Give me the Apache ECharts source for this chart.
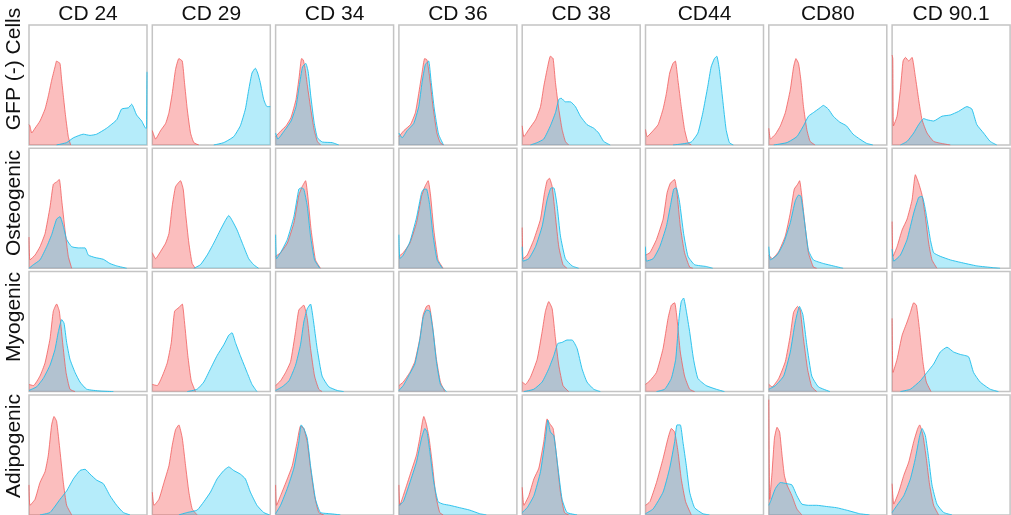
<!DOCTYPE html>
<html>
<head>
<meta charset="utf-8" />
<title>Flow cytometry histograms</title>
<script src="https://cdn.jsdelivr.net/npm/echarts@6/dist/echarts.min.js"></script>
<style>
  html, body { margin: 0; padding: 0; background: #fff; }
  #main { width: 1011px; height: 515px; }
</style>
</head>
<body>
<div id="main"></div>
<script type="text/javascript">
// column / row labels
var markers = ['CD 24', 'CD 29', 'CD 34', 'CD 36', 'CD 38', 'CD44', 'CD80', 'CD 90.1'];
var conditions = ['GFP (-) Cells', 'Osteogenic', 'Myogenic', 'Adipogenic'];
var labelCenters = [69, 203, 317, 446];

// histograms: [fluorescence (0-100), count (% of panel height)], one list per marker
var redGFP = [
  [[0,17],[0.8,16],[2.3,10],[5.1,14],[9.3,20],[13.6,30],[16.4,41],[19.2,54],[22,65],[23.4,70],[24.9,69],[26.3,68],[27.7,54],[29.1,41],[31,24],[33.3,7],[35.3,0]],
  [[0,12],[2.8,5],[7,12],[11.3,18],[14.1,27],[16.9,43],[19.7,63],[22.5,72],[25.4,70],[27.3,52],[29.6,30],[32.4,10],[35.2,2],[39.4,0]],
  [[0,7],[4.7,12],[8.9,16],[13.1,23],[17.3,38],[20,57],[22,72],[23.4,71],[24.8,65],[27,49],[29.8,30],[32.6,13],[35.4,3],[38.2,0]],
  [[0,7],[4.2,12],[9.8,17],[14,27],[16.8,43],[19.6,60],[21.8,72],[23.8,71],[26,57],[28.9,32],[32.2,10],[35,2],[37.8,0]],
  [[0,16],[1.4,7],[5.6,13],[11.3,21],[15.5,32],[18.3,49],[21.1,63],[23.9,74],[26.2,72],[28.2,52],[31,30],[33.8,13],[36.6,3],[39.4,0]],
  [[0,13],[1.4,7],[6.5,12],[10.7,17],[14.9,30],[17.7,43],[20.5,60],[23.3,68],[25.3,70],[27.5,54],[30.3,32],[33.1,13],[36,2],[38.8,0]],
  [[0,14],[1.4,5],[5.6,9],[9.8,16],[14,27],[18.2,46],[21,65],[23,72],[25.2,68],[27.2,54],[29.4,32],[32.2,13],[35,3],[39.2,0]],
  [[0,75],[0.6,72],[1.2,16],[4.2,24],[7,46],[9.3,70],[11.3,73],[14.1,70],[16.9,73],[19.7,57],[22.5,38],[25.4,21],[29.6,10],[35.2,3],[40.8,1.5],[49.3,0]]
];
var cyanGFP = [
  [[23.4,0],[31.9,2],[37.6,6],[46,9],[51.7,8],[57.3,9],[65.8,14],[74.3,21],[78.5,30],[84.2,31],[87,34],[91.2,25],[95.5,20],[98.9,14],[99.6,14],[100,61]],
  [[52.1,0],[60.6,2],[69,7],[74.6,16],[78.9,30],[81.7,46],[84.5,60],[87.3,64],[89.3,60],[91.5,52],[94.4,38],[97.2,32],[100,32]],
  [[0,10],[1.9,5],[7.5,12],[13.1,20],[17.3,32],[20,49],[22.8,65],[25.6,68],[27.6,61],[29.8,41],[32.6,19],[35.4,6],[39.6,2.5],[47.9,2],[53.5,0]],
  [[0,10],[2.8,6],[7,12],[12.6,18],[16.8,32],[19.6,52],[22.4,67],[25.2,70],[27.2,54],[30,30],[33.6,9],[37.8,0]],
  [[7,0],[12.7,2],[18.3,5],[23.9,16],[28.2,27],[31,38],[33,39],[36.6,36],[40.8,36],[45.1,32],[49.3,24],[54.9,17],[60.6,14],[64.8,10],[69,3],[74.6,0]],
  [[23.3,0],[31.7,1],[38.8,2.5],[44.4,10],[48.6,27],[52.8,49],[55.6,65],[58.4,72],[60.4,74],[62.6,63],[65.4,38],[68.3,13],[71.1,2],[74.4,0]],
  [[4.2,0],[15.4,2],[23.8,7],[29.4,16],[33.6,24],[37.8,27],[43.4,31],[46.2,33],[50.4,30],[54.6,24],[60.2,19],[65.8,16],[71.4,9],[77,5],[82.6,1.5],[88.2,0]],
  [[7,0],[12.7,3],[18.3,10],[22.5,17],[26.8,22],[29.6,21],[35.2,20],[42.3,24],[49.3,25],[56.3,28],[63.4,32],[67.6,30],[71.8,17],[77.5,10],[83.1,3],[88.7,0]]
];
var redOsteo = [
  [[0,26],[0.8,7],[5.1,11],[9.3,18],[13.6,29],[17.8,51],[20.6,70],[23.4,72],[25.7,74],[27.7,57],[30.5,32],[33.3,10],[36.2,0]],
  [[0,13],[2.8,8],[7,14],[11.3,21],[14.1,29],[16.9,52],[19.7,68],[23.9,73],[26.2,66],[28.2,46],[31,21],[33.8,4],[36.6,0]],
  [[0,10],[4.2,13],[9.9,21],[15.5,38],[19.7,61],[22.5,68],[25.4,73],[27.3,60],[30.1,32],[33.8,7],[38,0]],
  [[0,10],[3.7,13],[9.3,21],[14.9,38],[19.2,60],[22,68],[24.8,73],[26.8,61],[29.6,32],[33.2,7],[37.5,0]],
  [[0,34],[0.8,8],[4.2,11],[9.9,24],[15.5,41],[18.9,63],[21.1,73],[23.1,75],[25.4,68],[28.2,43],[31,18],[34.6,3],[38,0]],
  [[0,11],[3.7,13],[9.3,24],[14.9,41],[18.3,63],[21.1,71],[24.7,74],[26.7,63],[29.5,35],[33.1,13],[37.4,1],[40.2,0]],
  [[0,11],[2.8,8],[8.4,14],[14,27],[18.2,46],[21.6,66],[24.4,70],[26.1,73],[28,60],[30.8,35],[33.6,13],[37.8,1],[40.6,0]],
  [[0,39],[0.8,10],[4.2,18],[8.5,32],[12.7,41],[16.9,57],[19.7,78],[22.5,71],[25.4,61],[28.2,43],[31,21],[33.8,7],[38,0]]
];
var cyanOsteo = [
  [[0,0],[3.7,3],[9.3,7],[15,18],[19.2,28],[23.4,41],[26.3,43],[29.1,35],[31.9,24],[36.2,18],[41.8,17],[47.5,17],[50.3,11],[55.9,9],[63,7.5],[68.6,4],[74.3,2],[82.8,0]],
  [[35.2,0],[40.8,3],[46.5,11],[52.1,21],[57.7,32],[62,40],[64.8,44],[67.6,40],[71.8,32],[77.5,18],[81.7,8],[85.9,3],[90.1,0]],
  [[0,28],[0.8,8],[4.2,13],[9.9,24],[15.5,43],[19.7,66],[21.7,67],[23.9,66],[26.8,52],[29.6,27],[33,7],[37.5,0]],
  [[0,28],[0.8,8],[3.7,11],[9.3,22],[14.9,42],[19.2,63],[21.1,66],[23.4,66],[26.2,52],[29,27],[32.4,7],[36.9,0]],
  [[0,18],[0.8,6],[5.6,8],[11.3,18],[16.9,35],[21.1,57],[24.5,67],[26.8,67],[29.6,52],[32.4,27],[36.6,8],[42.3,2],[47.9,0]],
  [[0,18],[0.8,6],[6.5,8],[12.1,18],[17.7,35],[21.1,52],[23.9,66],[26.1,67],[28.9,55],[32.3,29],[36,10],[41.6,3],[51.4,1.5],[57,0]],
  [[0,18],[1.4,7],[7,11],[12.6,21],[18.2,38],[22.4,56],[25.2,61],[27.2,60],[30,41],[33.6,15],[37.8,7],[46.2,4],[54.6,2],[63,0]],
  [[0,16],[1.4,6],[7,11],[12.7,24],[18.3,46],[22.5,59],[25.4,60],[28.2,49],[32.4,24],[35.2,13],[40.8,10],[49.3,7],[57.7,5],[71.8,2],[85.9,0.5],[91.5,0]]
];
var redMyo = [
  [[0,6],[3.7,5],[9.3,13],[13.6,24],[17.8,44],[20.6,67],[23.4,73],[25.7,67],[28.5,41],[31.4,16],[34.7,2],[39,0]],
  [[0,6],[4.2,5],[8.5,13],[12.7,24],[16.1,41],[18.9,67],[22.5,70],[25.4,73],[27.3,58],[30.1,30],[33,9],[36.6,0]],
  [[0,5],[4.2,9],[8.5,16],[12.7,25],[16.9,50],[19.7,68],[23.9,72],[26.8,61],[29.6,36],[33,13],[36.6,2],[39.4,0]],
  [[0,5],[3.7,8],[9.3,16],[13.5,25],[17.7,44],[20.6,64],[23.4,71],[25.6,72],[28.5,55],[31.8,27],[35.2,8],[38.9,0]],
  [[0,8],[2.8,6],[7,12],[12.7,27],[16.9,50],[19.7,67],[22.5,75],[25.4,69],[28.2,44],[31,22],[34.6,5],[39.4,0]],
  [[0,6],[3.7,9],[9.3,16],[14.9,36],[19.1,61],[21.9,72],[24.7,74],[26.7,61],[29.5,33],[33.1,13],[37.4,2],[41.6,0]],
  [[0,6],[2.8,4],[8.4,11],[14,25],[18.2,47],[21,66],[24.4,71],[26.6,68],[29.4,44],[32.8,19],[36.4,4],[40.6,0]],
  [[0,61],[0.8,16],[4.2,27],[8.5,47],[12.7,58],[15.5,66],[18.3,74],[20.6,72],[23.4,50],[26.2,24],[29,8],[33,0]]
];
var cyanMyo = [
  [[0,1],[6.5,4],[12.1,11],[17.8,22],[22,35],[24.9,50],[27.7,60],[29.7,57],[31.9,41],[34.7,27],[39,16],[43.2,8],[48.9,2],[60.2,0.5],[71.5,0]],
  [[29.6,0],[38,2],[43.7,8],[49.3,19],[54.9,30],[60.6,39],[64.8,47],[67.6,49],[70.4,41],[74.6,30],[80.3,16],[84.5,6],[88.7,0]],
  [[0,1],[5.6,4],[11.3,9],[16.9,22],[21.1,39],[23.9,58],[26.8,69],[29.6,73],[31.8,61],[35.2,36],[39.4,13],[45.1,4],[52.1,1],[57.7,0]],
  [[0,1],[3.7,5],[9.3,15],[13.5,23],[17.7,43],[20.6,62],[23.4,68],[26.2,67],[29,50],[31.8,25],[35.2,6],[40.3,0]],
  [[1.4,0],[9.9,2],[16.9,8],[22.5,19],[26.8,30],[30.1,40],[33.8,41],[38,43],[42.3,43],[46.5,36],[50.7,19],[54.9,8],[60.6,2],[66.2,0]],
  [[9.3,0],[16.3,2],[21.9,11],[25.6,27],[28.4,61],[30.3,75],[32.3,78],[34.6,67],[37.4,50],[40.7,27],[44.4,11],[51.4,5],[59.8,2],[66.9,0]],
  [[0,2],[5.6,5],[12.6,13],[18.2,33],[22.4,58],[26,71],[28.9,64],[32.2,39],[36.4,13],[42,4],[51.8,0]],
  [[7,0],[15.5,2],[23.9,9],[29.6,16],[35.2,23],[40.8,33],[46.5,37],[52.1,33],[57.7,31],[64.8,29],[69,16],[74.6,8],[83.1,2],[90.1,0]]
];
var redAdipo = [
  [[0,25],[0.8,8],[5.1,13],[9.3,27],[13.6,36],[16.4,50],[19.2,75],[21.2,82],[23.4,78],[26.3,53],[29.1,27],[31.9,8],[36.2,0]],
  [[0,19],[1.4,8],[5.6,13],[9.9,27],[14.1,41],[16.9,58],[19.7,71],[22.5,75],[25.4,64],[28.2,41],[31,19],[33.8,5],[38,0]],
  [[0,25],[0.8,8],[4.2,16],[9.9,30],[14.1,41],[18.3,61],[21.1,74],[23.9,72],[26.8,61],[29.6,39],[33,16],[36.6,2],[40.8,0]],
  [[0,25],[0.8,8],[3.7,16],[9.3,33],[14.9,50],[17.7,64],[20,78],[21.1,82],[23.4,75],[25.6,64],[28.5,41],[31.3,16],[34.6,2],[37.5,0]],
  [[0,23],[1.4,8],[5.6,16],[9.9,30],[14.1,39],[18.3,61],[21.1,80],[23.4,76],[26.2,72],[29,50],[32.4,19],[35.8,2],[39.4,0]],
  [[0,8],[3.7,11],[9.3,27],[14.9,47],[19.1,64],[21.9,72],[24.7,69],[27.5,53],[30.3,30],[34,11],[38.8,0]],
  [[0,96],[0.8,13],[2.8,36],[4.8,64],[7,73],[9.2,69],[11.2,50],[13.2,33],[15.4,25],[19.6,16],[23.8,5],[28,0]],
  [[0,26],[1.4,9],[5.6,19],[9.9,33],[14.1,44],[18.3,61],[21.7,72],[23.4,75],[26.2,66],[29,47],[31.8,25],[35.2,8],[39.4,0]]
];
var cyanAdipo = [
  [[9.3,0],[17.8,2],[26.3,13],[31.9,20],[37.6,30],[43.2,37],[47.5,38],[51.7,34],[57.3,29],[63,26],[68.6,16],[74.3,8],[79.9,2],[85.6,0]],
  [[22.5,0],[29.6,2],[38,4],[43.7,11],[49.3,19],[54.9,30],[60.6,37],[64.8,40],[69,37],[74.6,34],[78.9,30],[83.1,19],[88.7,8],[94.4,2],[99.4,0]],
  [[0,1],[4.2,8],[9.9,22],[15.5,39],[19.7,61],[21.7,75],[23.9,72],[26.8,64],[29.6,41],[33.8,13],[38,2],[46.5,1],[54.9,0]],
  [[0,8],[3.7,11],[9.3,27],[14.9,44],[19.2,64],[22,72],[23.9,69],[26.2,53],[29.6,27],[33.2,11],[37.5,9],[43.1,8],[51.5,6],[60,4],[68.5,1],[74.1,0]],
  [[0,2],[4.2,6],[9.9,16],[15.5,36],[19.7,64],[21.7,79],[23.9,69],[26.8,66],[30.1,41],[33.8,13],[38,2],[46.5,0]],
  [[0,1],[6.5,5],[14.9,19],[20.5,39],[24.7,61],[26.7,75],[29.5,75],[31.7,61],[34.6,41],[37.4,19],[41.6,6],[48.6,1],[54.2,0]],
  [[0,8],[1.4,11],[5.6,22],[9.8,27],[15.4,26],[19.6,25],[23.8,16],[28,9],[33.6,8],[40.6,8],[49,7],[57.4,6],[65.8,4],[77,1],[85.4,0]],
  [[0,2],[4.2,8],[9.9,16],[15.5,30],[19.7,47],[23.4,66],[25.4,72],[28.2,66],[31,47],[33.8,25],[38,9],[43.7,2],[50.7,0]]
];

var redRows = [redGFP, redOsteo, redMyo, redAdipo];
var cyanRows = [cyanGFP, cyanOsteo, cyanMyo, cyanAdipo];

var chart = echarts.init(document.getElementById('main'));
var grids = [], xAxes = [], yAxes = [], series = [], graphics = [];
var left0 = 29, top0 = 25, step = 123.3, w = 118, h = 120;
var font = '21px "Liberation Sans", Arial, sans-serif';

for (var r = 0; r < 4; r++) {
  for (var c = 0; c < 8; c++) {
    var idx = r * 8 + c;
    grids.push({
      left: left0 + c * step, top: top0 + r * step, width: w, height: h,
      show: true, borderColor: '#c4c4c4', borderWidth: 1.5, backgroundColor: '#fff'
    });
    xAxes.push({ gridIndex: idx, type: 'value', min: 0, max: 100, show: false });
    yAxes.push({ gridIndex: idx, type: 'value', min: 0, max: 100, show: false });
    series.push({
      type: 'line', xAxisIndex: idx, yAxisIndex: idx, data: redRows[r][c],
      showSymbol: false, smooth: 0.15, silent: true,
      lineStyle: { color: 'rgba(240,85,85,0.75)', width: 1 },
      areaStyle: { color: 'rgba(242,60,60,0.48)' }
    });
    series.push({
      type: 'line', xAxisIndex: idx, yAxisIndex: idx, data: cyanRows[r][c],
      showSymbol: false, smooth: 0.15, silent: true,
      lineStyle: { color: 'rgba(30,190,235,0.9)', width: 1 },
      areaStyle: { color: 'rgba(45,200,240,0.5)' }
    });
  }
}

// column titles
markers.forEach(function (m, c) {
  graphics.push({
    type: 'text', x: left0 + c * step + w / 2, y: 14,
    style: { text: m, font: font, fill: '#111', textAlign: 'center', textVerticalAlign: 'middle' }
  });
});
// row titles, rotated
conditions.forEach(function (name, r) {
  graphics.push({
    type: 'text', x: 14, y: labelCenters[r], rotation: Math.PI / 2,
    style: { text: name, font: font, fill: '#111', textAlign: 'center', textVerticalAlign: 'middle' }
  });
});

chart.setOption({
  animation: false,
  grid: grids,
  xAxis: xAxes,
  yAxis: yAxes,
  series: series,
  graphic: graphics
});
</script>
</body>
</html>
